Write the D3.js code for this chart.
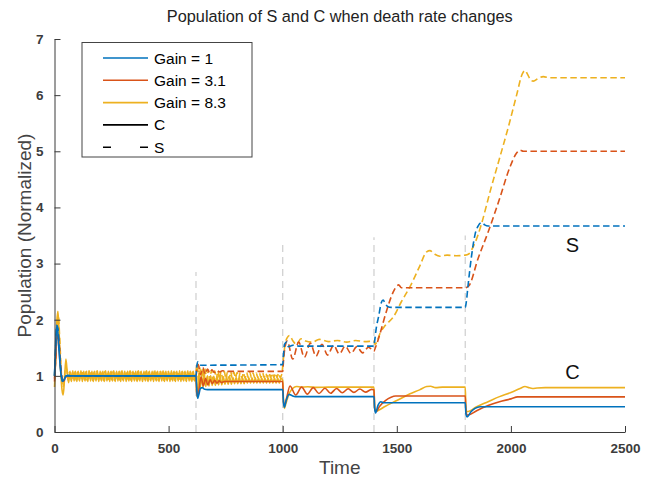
<!DOCTYPE html>
<html><head><meta charset="utf-8">
<script src="https://cdn.jsdelivr.net/npm/d3@7"></script>
<style>body{margin:0;background:#fff;}svg{display:block;font-family:"Liberation Sans",Arial,Helvetica,sans-serif;}</style>
</head><body><svg id="c" width="652" height="478"></svg>
<script>
const title = "Population of S and C when death rate changes";
const xLabel = "Time";
const yLabel = "Population (Normalized)";
const xTicks = [0, 500, 1000, 1500, 2000, 2500];
const yTicks = [0, 1, 2, 3, 4, 5, 6, 7];
const gainLabels = ["Gain = 1", "Gain = 3.1", "Gain = 8.3"];
const typeLabels = ["C", "S"];
const changeTimes = [620, 1000, 1400, 1800];
const changeTops = [2.85, 3.35, 3.47, 3.5];
const curveLabels = [["S", 2270, 3.2], ["C", 2270, 0.94]];

const blueC = [[0,1.0],[4,1.45],[9,1.88],[14,1.8],[20,1.45],[27,1.08],[34,0.9],[42,0.93],[50,1.0],[60,1.01],[70,1.0],[620,1.0],
[623,0.8],[627,0.6],[632,0.66],[640,0.78],[648,0.79],[658,0.76],[670,0.755],[1000,0.755],
[1003,0.55],[1007,0.44],[1015,0.56],[1028,0.67],[1040,0.65],[1055,0.63],[1400,0.63],
[1403,0.42],[1407,0.34],[1418,0.48],[1430,0.54],[1442,0.52],[1800,0.52],
[1803,0.32],[1808,0.27],[1825,0.36],[1843,0.42],[1865,0.45],[2500,0.45]];

const blueS = [[0,1.0],[5,1.5],[10,1.9],[15,1.85],[21,1.5],[28,1.1],[35,0.92],[43,0.95],[52,1.0],[620,1.0],
[623,1.15],[628,1.25],[635,1.2],[645,1.19],[1000,1.2],
[1003,1.35],[1008,1.56],[1017,1.6],[1025,1.52],[1035,1.53],[1050,1.55],[1070,1.53],[1400,1.53],
[1403,1.62],[1410,1.85],[1420,2.05],[1432,2.3],[1440,2.35],[1450,2.28],[1462,2.23],[1475,2.22],[1800,2.22],
[1804,2.3],[1812,2.6],[1828,3.15],[1843,3.52],[1858,3.68],[1872,3.73],[1885,3.69],[1900,3.67],[2500,3.67]];

const redC = [[0,0.9],[5,1.3],[11,1.72],[17,1.65],[24,1.25],[31,0.98],[39,0.9],[47,0.96],[56,1.0],[620,1.0],
[623,0.72],[628,0.62],[634,0.78],[642,0.98],[652,0.82],[662,0.95],[672,0.84],[682,0.93],[692,0.86],[702,0.92],[712,0.87],[722,0.91],[732,0.88],[745,0.9],[1000,0.9],
[1003,0.56],[1008,0.47],[1018,0.62],[1032,0.82],[1057,0.66],[1083,0.80],[1108,0.675],[1134,0.79],[1159,0.685],[1185,0.78],[1210,0.69],[1236,0.775],[1261,0.70],[1287,0.77],[1312,0.705],[1338,0.765],[1363,0.71],[1390,0.76],[1400,0.75],
[1403,0.42],[1408,0.36],[1425,0.46],[1450,0.56],[1475,0.62],[1495,0.64],[1800,0.64],
[1803,0.36],[1810,0.3],[1850,0.38],[1900,0.47],[1950,0.54],[2000,0.59],[2030,0.625],[2500,0.625]];

const redS = [[0,0.95],[6,1.35],[12,1.78],[18,1.7],[25,1.3],[32,1.0],[40,0.92],[48,0.97],[57,1.0],[620,1.0],
[624,1.12],[630,1.2],[640,1.02],[650,1.15],[660,1.03],[670,1.12],[680,1.05],[690,1.11],[700,1.06],[712,1.1],[724,1.07],[736,1.09],[750,1.08],[1000,1.08],
[1004,1.3],[1012,1.55],[1020,1.62],[1044,1.3],[1070,1.6],[1095,1.33],[1121,1.58],[1146,1.35],[1172,1.56],[1197,1.37],[1223,1.545],[1248,1.39],[1274,1.53],[1299,1.40],[1325,1.52],[1350,1.41],[1376,1.51],[1400,1.44],
[1406,1.5],[1415,1.6],[1427,1.76],[1456,2.17],[1485,2.5],[1500,2.6],[1508,2.62],[1520,2.57],[1800,2.57],
[1815,2.6],[1857,3.1],[1901,3.57],[1950,4.15],[1996,4.72],[2025,4.97],[2040,5.02],[2055,5.0],[2500,5.0]];

const yellowC = [[0,0.8],[5,1.3],[10,1.95],[15,2.15],[20,1.8],[27,1.1],[33,0.75],[38,0.66],[44,0.95],[50,1.3],[56,1.05],[62,0.88],
[68,1.08],[74,0.9],[80,1.09],[86,0.91],[92,1.08],[98,0.9],[104,1.08],[110,0.91],[116,1.09],[122,0.9],[128,1.08],[134,0.91],[140,1.08],[146,0.9],[152,1.09],[158,0.91],[164,1.08],[170,0.9],[176,1.08],[182,0.91],[188,1.09],[194,0.9],[200,1.08],[206,0.91],[212,1.08],[218,0.9],[224,1.09],[230,0.91],[236,1.08],[242,0.9],[248,1.08],[254,0.91],[260,1.09],[266,0.9],[272,1.08],[278,0.91],[284,1.08],[290,0.9],[296,1.09],[302,0.91],[308,1.08],[314,0.9],[320,1.08],[326,0.91],[332,1.09],[338,0.9],[344,1.08],[350,0.91],[356,1.08],[362,0.9],[368,1.09],[374,0.91],[380,1.08],[386,0.9],[392,1.08],[398,0.91],[404,1.09],[410,0.9],[416,1.08],[422,0.91],[428,1.08],[434,0.9],[440,1.09],[446,0.91],[452,1.08],[458,0.9],[464,1.08],[470,0.91],[476,1.09],[482,0.9],[488,1.08],[494,0.91],[500,1.08],[506,0.9],[512,1.09],[518,0.91],[524,1.08],[530,0.9],[536,1.08],[542,0.91],[548,1.09],[554,0.9],[560,1.08],[566,0.91],[572,1.08],[578,0.9],[584,1.09],[590,0.91],[596,1.08],[602,0.9],[608,1.08],[614,0.91],[620,1.0],
[623,0.7],[627,0.62],[632,1.05],[638,0.78],[644,1.02],[650,0.8],[656,1.01],[663,0.81],[670,1.0],[677,0.82],[684,1.0],[691,0.83],[698,0.99],[705,0.83],[712,0.99],[719,0.84],[726,0.98],[733,0.84],[740,0.98],[747,0.85],[754,0.98],[761,0.85],[768,0.97],[775,0.85],[782,0.97],[789,0.86],[796,0.97],[803,0.86],[810,0.97],[817,0.86],[824,0.96],[831,0.86],[838,0.96],[845,0.87],[852,0.96],[859,0.87],[866,0.96],[873,0.87],[880,0.96],[887,0.87],[894,0.96],[901,0.87],[908,0.96],[915,0.87],[922,0.96],[929,0.87],[936,0.96],[943,0.87],[950,0.96],[957,0.87],[964,0.96],[971,0.87],[978,0.96],[985,0.87],[992,0.96],[1000,0.92],
[1003,0.6],[1007,0.42],[1015,0.52],[1030,0.7],[1048,0.79],[1062,0.81],[1080,0.8],[1110,0.805],[1150,0.795],[1200,0.8],[1400,0.8],
[1403,0.45],[1407,0.37],[1450,0.46],[1500,0.56],[1558,0.68],[1600,0.75],[1631,0.81],[1648,0.815],[1670,0.79],[1700,0.8],[1800,0.8],
[1803,0.42],[1808,0.36],[1850,0.45],[1900,0.54],[1950,0.63],[2000,0.705],[2040,0.775],[2062,0.81],[2075,0.795],[2095,0.775],[2115,0.785],[2150,0.79],[2500,0.79]];

const yellowS = [[0,1.0],[6,1.45],[12,1.95],[17,2.05],[23,1.65],[30,1.05],[36,0.8],[42,0.88],[48,1.15],[54,1.1],[60,0.92],
[65,1.07],[71,0.92],[77,1.08],[83,0.93],[89,1.07],[95,0.92],[101,1.07],[107,0.93],[113,1.08],[119,0.92],[125,1.07],[131,0.93],[137,1.07],[143,0.92],[149,1.08],[155,0.93],[161,1.07],[167,0.92],[173,1.07],[179,0.93],[185,1.08],[191,0.92],[197,1.07],[203,0.93],[209,1.07],[215,0.92],[221,1.08],[227,0.93],[233,1.07],[239,0.92],[245,1.07],[251,0.93],[257,1.08],[263,0.92],[269,1.07],[275,0.93],[281,1.07],[287,0.92],[293,1.08],[299,0.93],[305,1.07],[311,0.92],[317,1.07],[323,0.93],[329,1.08],[335,0.92],[341,1.07],[347,0.93],[353,1.07],[359,0.92],[365,1.08],[371,0.93],[377,1.07],[383,0.92],[389,1.07],[395,0.93],[401,1.08],[407,0.92],[413,1.07],[419,0.93],[425,1.07],[431,0.92],[437,1.08],[443,0.93],[449,1.07],[455,0.92],[461,1.07],[467,0.93],[473,1.08],[479,0.92],[485,1.07],[491,0.93],[497,1.07],[503,0.92],[509,1.08],[515,0.93],[521,1.07],[527,0.92],[533,1.07],[539,0.93],[545,1.08],[551,0.92],[557,1.07],[563,0.93],[569,1.07],[575,0.92],[581,1.08],[587,0.93],[593,1.07],[599,0.92],[605,1.07],[611,0.93],[617,1.05],
[621,1.1],[626,1.22],[631,0.9],[637,1.15],[643,0.9],[649,1.14],[655,0.92],[660,1.12],[667,0.92],[674,1.11],[681,0.93],[688,1.1],[695,0.93],[702,1.09],[709,0.94],[716,1.09],[723,0.94],[730,1.08],[737,0.95],[744,1.08],[751,0.95],[758,1.07],[765,0.95],[772,1.07],[779,0.96],[786,1.07],[793,0.96],[800,1.06],[807,0.96],[814,1.06],[821,0.96],[828,1.06],[835,0.96],[842,1.06],[849,0.97],[856,1.06],[863,0.97],[870,1.05],[877,0.97],[884,1.05],[891,0.97],[898,1.05],[905,0.97],[912,1.05],[919,0.97],[926,1.05],[933,0.97],[940,1.05],[947,0.97],[954,1.05],[961,0.97],[968,1.05],[975,0.97],[982,1.05],[989,0.97],[996,1.03],
[1003,1.3],[1010,1.55],[1020,1.68],[1030,1.72],[1045,1.62],[1060,1.56],[1080,1.66],[1100,1.62],[1130,1.6],[1160,1.65],[1200,1.61],[1240,1.63],[1280,1.6],[1320,1.63],[1360,1.61],[1400,1.62],
[1405,1.56],[1412,1.6],[1427,1.76],[1450,1.9],[1485,2.05],[1520,2.32],[1558,2.59],[1600,2.95],[1631,3.21],[1645,3.23],[1665,3.17],[1689,3.13],[1720,3.15],[1760,3.14],[1800,3.15],
[1815,3.17],[1835,3.3],[1855,3.5],[1872,3.72],[1910,4.3],[1952,4.9],[1990,5.45],[2025,6.0],[2050,6.38],[2062,6.44],[2072,6.38],[2085,6.28],[2098,6.25],[2120,6.3],[2142,6.33],[2170,6.31],[2500,6.31]];

const colors = ["#0072BD", "#D95319", "#EDB120"];
const seriesC = [blueC, redC, yellowC];
const seriesS = [blueS, redS, yellowS];

const svg = d3.select("#c");
const L = 54.5, R = 625, T = 39, B = 432;
const x = d3.scaleLinear().domain([0, 2500]).range([L, R]);
const y = d3.scaleLinear().domain([0, 7]).range([B, T]);

svg.append("rect").attr("width", 652).attr("height", 478).attr("fill", "#fff");

// change markers
svg.append("g").selectAll("line").data(changeTimes).join("line")
  .attr("x1", d => x(d)).attr("x2", d => x(d))
  .attr("y1", y(0)).attr("y2", (d, i) => y(changeTops[i]))
  .attr("stroke", "#d2d2d2").attr("stroke-width", 1.3).attr("stroke-dasharray", "7,5");

const line = d3.line().x(d => x(d[0])).y(d => y(d[1])).curve(d3.curveMonotoneX);
const g = svg.append("g").attr("fill", "none");
const order = [2, 1, 0];
order.forEach(i => {
  g.append("path").attr("d", line(seriesC[i])).attr("stroke", colors[i]).attr("stroke-width", 1.6);
  g.append("path").attr("d", line(seriesS[i])).attr("stroke", colors[i]).attr("stroke-width", 1.6).attr("stroke-dasharray", "6.5,3.5");
});

// axes
const axCol = "#3a3a3a";
const xAxis = d3.axisBottom(x).tickValues(xTicks).tickSizeInner(-6).tickSizeOuter(0).tickPadding(11).tickFormat(d3.format("d"));
const gx = svg.append("g").attr("transform", `translate(0,${B})`).call(xAxis);
const yAxis = d3.axisLeft(y).tickValues(yTicks).tickSizeInner(-6).tickSizeOuter(0).tickPadding(11).tickFormat(d3.format("d"));
const gy = svg.append("g").attr("transform", `translate(${L},0)`).call(yAxis);
[gx, gy].forEach(a => {
  a.select(".domain").attr("stroke", axCol).attr("stroke-width", 1);
  a.selectAll(".tick line").attr("stroke", axCol).attr("stroke-width", 1);
  a.selectAll("text").attr("fill", "#3c3c3c").attr("font-size", 13.5).attr("font-weight", "bold")
    .attr("font-family", "Liberation Sans, Arial, sans-serif");
});

svg.append("text").attr("x", (L + R) / 2).attr("y", 22).attr("text-anchor", "middle")
  .attr("font-size", 16.3).attr("fill", "#222").text(title);
svg.append("text").attr("x", (L + R) / 2).attr("y", 474).attr("text-anchor", "middle")
  .attr("font-size", 19).attr("fill", "#444").text(xLabel);
svg.append("text").attr("transform", `translate(31,${(T + B) / 2}) rotate(-90)`).attr("text-anchor", "middle")
  .attr("font-size", 19).attr("fill", "#444").text(yLabel);

// curve labels
svg.append("g").selectAll("text").data(curveLabels).join("text")
  .attr("x", d => x(d[1])).attr("y", d => y(d[2])).attr("text-anchor", "middle")
  .attr("font-size", 20).attr("fill", "#111").text(d => d[0]);

// legend
const lg = svg.append("g");
lg.append("rect").attr("x", 82).attr("y", 42.5).attr("width", 170).attr("height", 114.5)
  .attr("fill", "#fff").attr("stroke", "#444").attr("stroke-width", 1);
const legendItems = gainLabels.map((t, i) => ({t, c: colors[i], dash: null}))
  .concat([{t: typeLabels[0], c: "#000", dash: null}, {t: typeLabels[1], c: "#000", dash: "8,29"}]);
legendItems.forEach((d, i) => {
  const yy = 58 + i * 22.3;
  lg.append("line").attr("x1", 103).attr("x2", 148).attr("y1", yy).attr("y2", yy)
    .attr("stroke", d.c).attr("stroke-width", 1.6).attr("stroke-dasharray", d.dash);
  lg.append("text").attr("x", 154).attr("y", yy + 5.5).attr("font-size", 15.5).attr("fill", "#000").text(d.t);
});
</script></body></html>
